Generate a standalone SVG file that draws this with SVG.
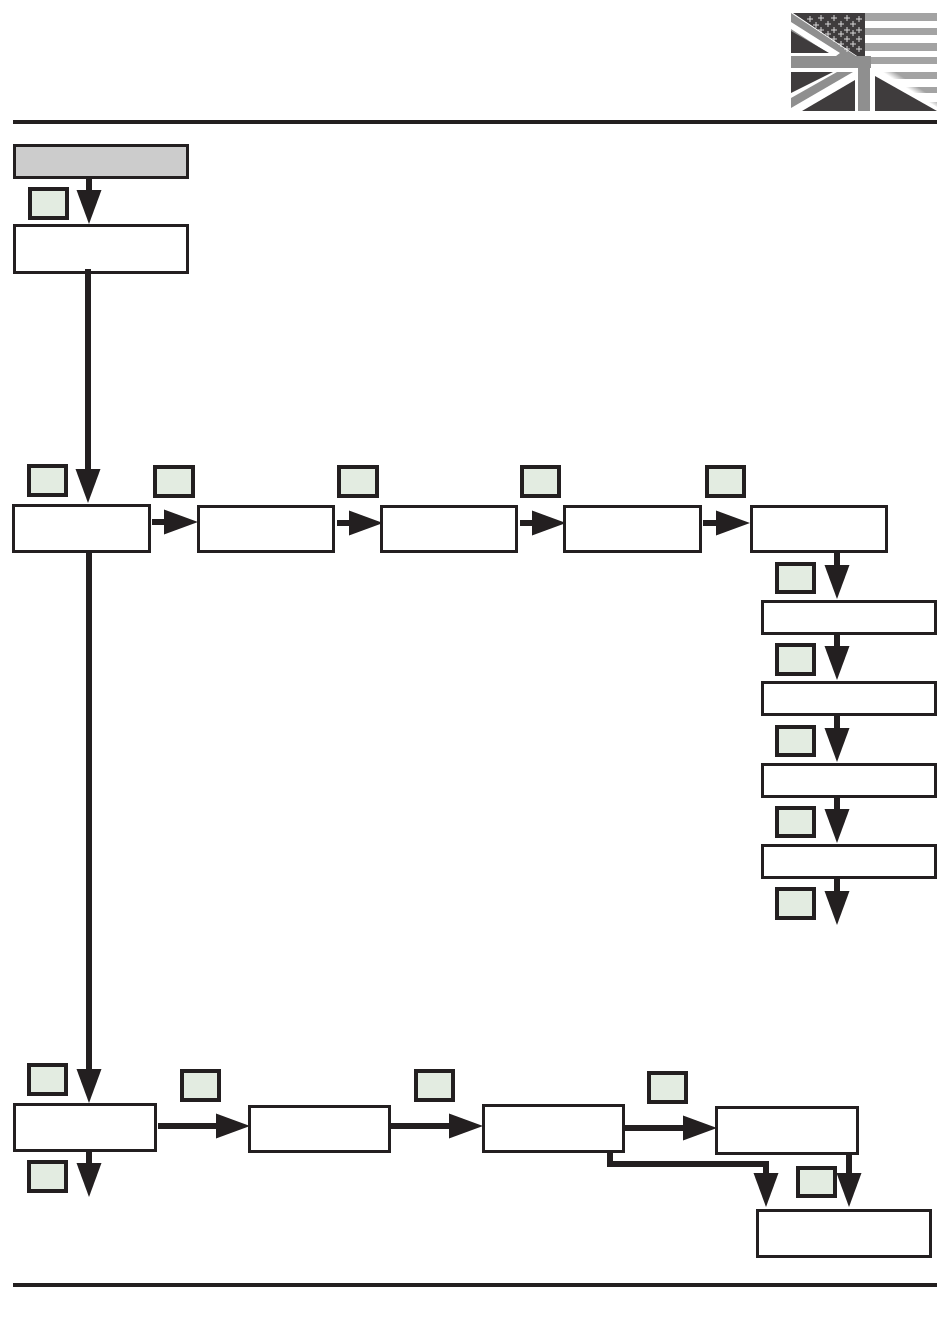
<svg xmlns="http://www.w3.org/2000/svg" width="950" height="1331" viewBox="0 0 950 1331">
<style>
.box{fill:#fff;stroke:#231f20;stroke-width:3}
.start{fill:#ccc;stroke:#231f20;stroke-width:3}
.key{fill:#e3ece1;stroke:#231f20;stroke-width:4}
.rule{fill:#231f20}
.wire{fill:none;stroke:#231f20;stroke-width:6;marker-end:url(#head)}
.dk{fill:#3f3c3d}
.gy{fill:#8f8f8f}
.st{fill:#a3a3a3}
.wh{fill:#fff}
.star{stroke:#fff;stroke-width:1;fill:none;opacity:.8}
</style>
<defs>
<marker id="head" markerUnits="userSpaceOnUse" viewBox="0 -12.5 34 25" refX="0" refY="0" markerWidth="34" markerHeight="25" orient="auto" overflow="visible">
<path d="M0,-12.500L34,0L0,12.500Z" fill="#231f20"/>
</marker>
<linearGradient id="fade" gradientUnits="userSpaceOnUse" x1="912" y1="83" x2="908" y2="89">
<stop offset="0" stop-color="#fff" stop-opacity="0"/>
<stop offset="1" stop-color="#fff"/>
</linearGradient>
<path id="s" d="M-3,0H3M0,-3V3"/>
</defs>

<g id="flag">
<g class="st">
<rect x="865" y="13" width="72" height="8"/>
<rect x="865" y="28" width="72" height="7"/>
<rect x="865" y="43" width="72" height="8"/>
<rect x="865" y="57" width="72" height="7"/>
<rect x="870" y="72" width="67" height="7"/>
<rect x="870" y="87" width="67" height="6"/>
<rect x="870" y="102" width="67" height="9"/>
</g>
<polygon points="870,64 885,64 937,94 937,111 870,111" fill="url(#fade)"/>
<polygon class="gy" points="791,13 865,62 871,68 791,68"/>
<polygon class="dk" points="793,13 865,13 865,60 863,60"/>
<polygon class="wh" points="791,22 791,29 828,53 791,53 791,56 836,56 840,53"/>
<polygon class="dk" points="791,31 791,53 829,53"/>
<rect class="gy" x="791" y="56" width="80" height="12"/>
<rect class="wh" x="791" y="68" width="67" height="4"/>
<rect class="dk" x="791" y="72" width="64" height="39"/>
<polygon class="wh" points="791,93 791,111 802,111 855,80 855,72 833,72"/>
<polygon class="gy" points="791,98 791,108 853,72 837,72"/>
<rect class="wh" x="855" y="68" width="3" height="43"/>
<rect class="gy" x="858" y="62" width="12" height="49"/>
<polygon class="wh" points="870,68 870,111 875,111 875,76 937,111 937,107 876,71"/>
<polygon class="dk" points="875,76 875,111 937,111"/>
<g class="star">
<use href="#s" x="810" y="19"/><use href="#s" x="821" y="18"/><use href="#s" x="834" y="18"/><use href="#s" x="847" y="18"/><use href="#s" x="859" y="19"/>
<use href="#s" x="816" y="25"/><use href="#s" x="828" y="24"/><use href="#s" x="841" y="24"/><use href="#s" x="853" y="24"/>
<use href="#s" x="821" y="30"/><use href="#s" x="834" y="30"/><use href="#s" x="847" y="30"/><use href="#s" x="859" y="30"/>
<use href="#s" x="828" y="34"/><use href="#s" x="841" y="34"/><use href="#s" x="853" y="33"/>
<use href="#s" x="834" y="39"/><use href="#s" x="847" y="39"/><use href="#s" x="859" y="39"/>
<use href="#s" x="841" y="44"/><use href="#s" x="853" y="44"/>
<use href="#s" x="847" y="49"/><use href="#s" x="859" y="49"/>
</g>
</g>

<rect id="rule-top" class="rule" x="13" y="120" width="924" height="4"/>
<rect id="rule-bottom" class="rule" x="13" y="1283" width="924" height="4"/>

<g id="node-start"><rect class="start" x="14.500" y="145.500" width="173" height="32"/></g>
<g id="node-1"><rect class="box" x="14.500" y="225.500" width="173" height="47"/></g>
<g id="node-a"><rect class="box" x="13.500" y="505.500" width="136" height="46"/></g>
<g id="node-b"><rect class="box" x="198.500" y="506.500" width="135" height="45"/></g>
<g id="node-c"><rect class="box" x="381.500" y="506.500" width="135" height="45"/></g>
<g id="node-d"><rect class="box" x="564.500" y="506.500" width="136" height="45"/></g>
<g id="node-e"><rect class="box" x="751.500" y="506.500" width="135" height="45"/></g>
<g id="node-e1"><rect class="box" x="762.500" y="601.500" width="173" height="32"/></g>
<g id="node-e2"><rect class="box" x="762.500" y="682.500" width="173" height="32"/></g>
<g id="node-e3"><rect class="box" x="762.500" y="764.500" width="173" height="32"/></g>
<g id="node-e4"><rect class="box" x="762.500" y="845.500" width="173" height="32"/></g>
<g id="node-f"><rect class="box" x="14.500" y="1104.500" width="141" height="46"/></g>
<g id="node-g"><rect class="box" x="249.500" y="1106.500" width="140" height="45"/></g>
<g id="node-h"><rect class="box" x="483.500" y="1105.500" width="140" height="46"/></g>
<g id="node-i"><rect class="box" x="716.500" y="1107.500" width="141" height="46"/></g>
<g id="node-j"><rect class="box" x="757.500" y="1210.500" width="173" height="46"/></g>

<g id="connectors">
<path class="wire" d="M89,178V190"/>
<path class="wire" d="M88,269V469"/>
<path class="wire" d="M89,553V1069"/>
<path class="wire" d="M152,522H164"/>
<path class="wire" d="M337,523H349"/>
<path class="wire" d="M520,523H532"/>
<path class="wire" d="M703,523H716"/>
<path class="wire" d="M837,553V565"/>
<path class="wire" d="M837,635V646"/>
<path class="wire" d="M837,716V728"/>
<path class="wire" d="M837,798V809"/>
<path class="wire" d="M837,879V891"/>
<path class="wire" d="M89,1152V1163"/>
<path class="wire" d="M158,1126H216"/>
<path class="wire" d="M391,1126H449"/>
<path class="wire" d="M625,1128H683"/>
<path class="wire" d="M849,1155V1173"/>
<path class="wire" d="M610,1153V1164H766V1173"/>
</g>

<g id="keys">
<rect class="key" x="30" y="189" width="37" height="29"/>
<rect class="key" x="29" y="466" width="37" height="29"/>
<rect class="key" x="155" y="467" width="38" height="29"/>
<rect class="key" x="339" y="467" width="38" height="29"/>
<rect class="key" x="522" y="467" width="37" height="29"/>
<rect class="key" x="707" y="467" width="37" height="29"/>
<rect class="key" x="777" y="564" width="37" height="28"/>
<rect class="key" x="777" y="645" width="37" height="29"/>
<rect class="key" x="777" y="727" width="37" height="28"/>
<rect class="key" x="777" y="808" width="37" height="28"/>
<rect class="key" x="777" y="889" width="37" height="29"/>
<rect class="key" x="29" y="1065" width="37" height="29"/>
<rect class="key" x="29" y="1162" width="37" height="29"/>
<rect class="key" x="182" y="1071" width="37" height="29"/>
<rect class="key" x="416" y="1071" width="37" height="29"/>
<rect class="key" x="649" y="1073" width="37" height="29"/>
<rect class="key" x="798" y="1168" width="37" height="28"/>
</g>
</svg>
